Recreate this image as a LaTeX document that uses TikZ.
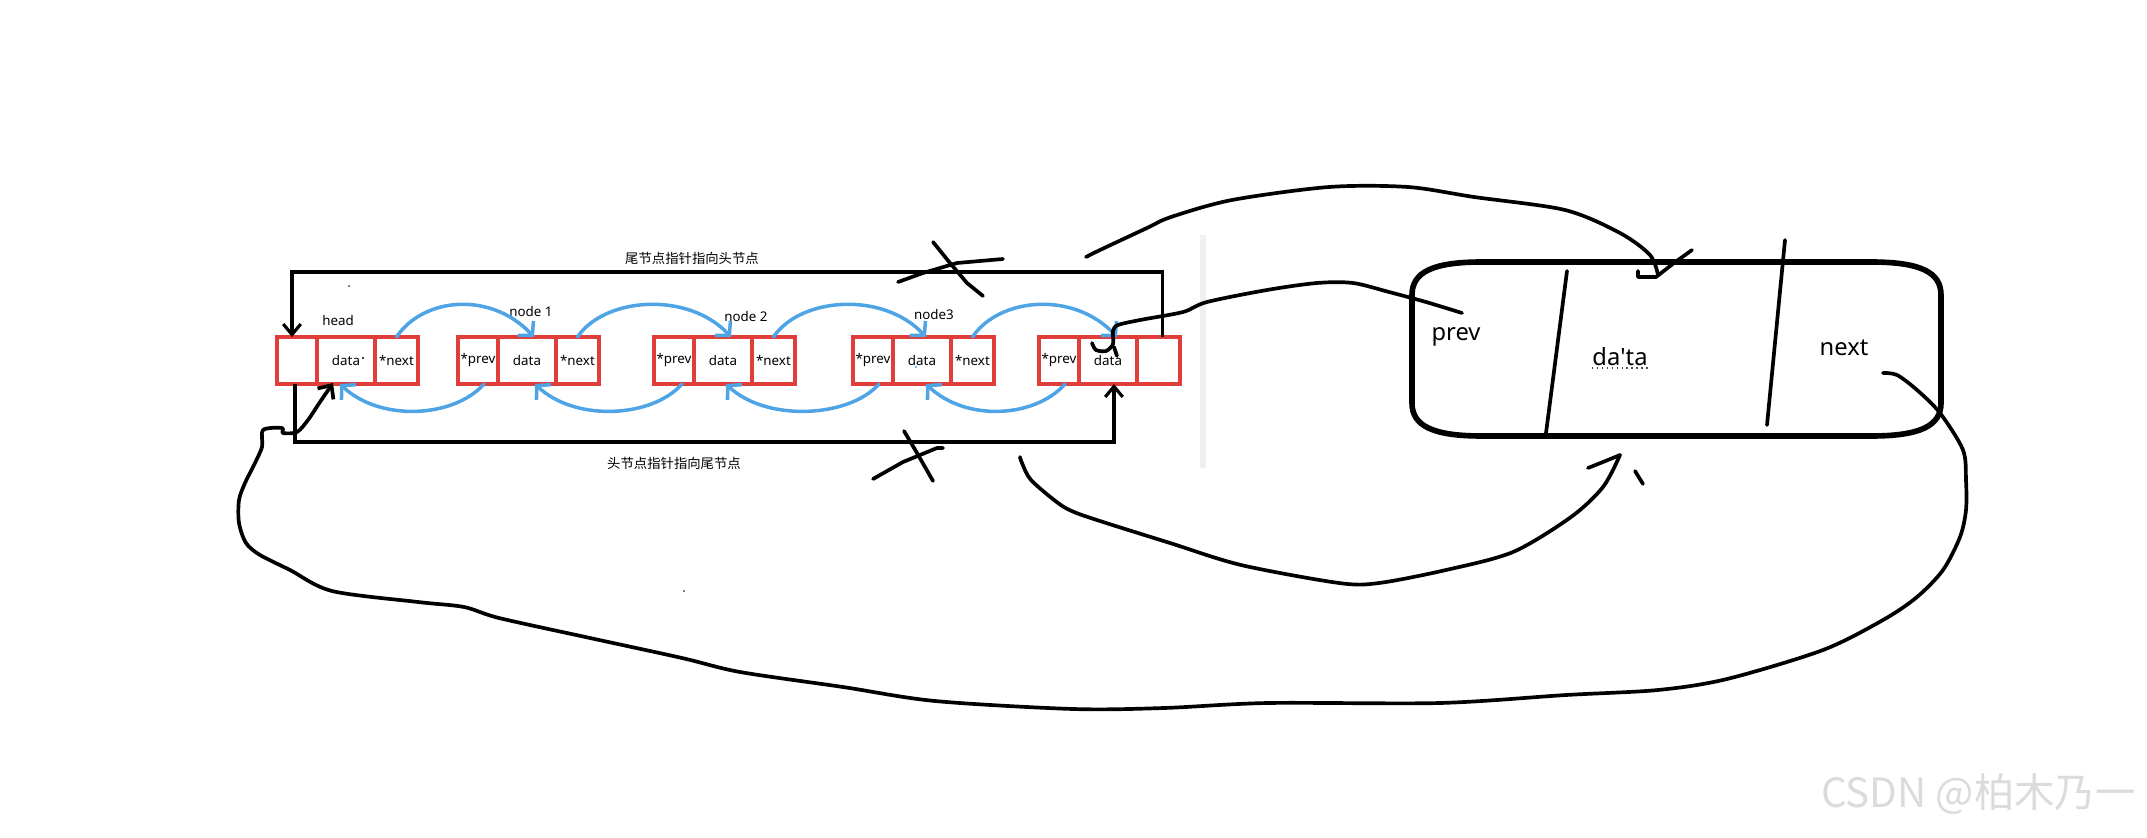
\documentclass[tikz,border=0pt]{standalone}
\usepackage{fontspec}
\setmainfont{Noto Sans}
\newfontfamily\cjk{Noto Sans CJK SC}
\usetikzlibrary{arrows.meta,positioning,calc}
\definecolor{listred}{RGB}{224,62,58}
\definecolor{linkblue}{RGB}{78,164,228}
\tikzset{
  cell/.style={draw=listred, line width=2pt, minimum height=0.94cm, inner sep=0pt, outer sep=0pt, font=\fontsize{7.6}{9}\selectfont},
  ecell/.style={cell, minimum width=0.8cm},
  dcell/.style={cell, minimum width=1.16cm},
  ncell/.style={cell, minimum width=0.86cm},
  lbl/.style={font=\fontsize{7.6}{9}\selectfont, inner sep=1pt},
  clbl/.style={font=\cjk\fontsize{7.6}{9}\selectfont, inner sep=1pt},
  blbl/.style={font=\fontsize{13.5}{16}\selectfont, inner sep=1pt},
  link/.style={linkblue, line width=2pt, line cap=round, -{Straight Barb[length=5.5pt,width=12pt]}},
  frameline/.style={line width=1.8pt, -{Straight Barb[length=6pt,width=10pt]}},
  ink/.style={line width=2.1pt, line cap=round, line join=round},
}

\begin{document}
\begin{tikzpicture}[x=0.02cm, y=-0.02cm]
    \useasboundingbox (0,0) rectangle (2147,838);
    % head
    \node[ecell, anchor=west] (h-e) at (277,360.5) {};
    \node[dcell, right=0pt of h-e] (h-d) {data};
    \node[ncell, right=0pt of h-d] (h-n) {*next};
    \node[lbl] (l-h) at (338,320) {head};
    % node 1
    \node[ecell, anchor=west] (n1-p) at (458,360.5) {*prev};
    \node[dcell, right=0pt of n1-p] (n1-d) {data};
    \node[ncell, right=0pt of n1-d] (n1-n) {*next};
    \node[lbl] (l-1) at (531,311) {node 1};
    % node 2
    \node[ecell, anchor=west] (n2-p) at (654,360.5) {*prev};
    \node[dcell, right=0pt of n2-p] (n2-d) {data};
    \node[ncell, right=0pt of n2-d] (n2-n) {*next};
    \node[lbl] (l-2) at (746,316) {node 2};
    % node 3
    \node[ecell, anchor=west] (n3-p) at (853,360.5) {*prev};
    \node[dcell, right=0pt of n3-p] (n3-d) {data};
    \node[ncell, right=0pt of n3-d] (n3-n) {*next};
    \node[lbl] (l-3) at (934,314) {node3};
    % tail
    \node[ecell, anchor=west] (t-p) at (1039,360.5) {*prev};
    \node[dcell, right=0pt of t-p] (t-d) {data};
    \node[ncell, right=0pt of t-d] (t-e) {};

    % next links
    \draw[link] (h-n.north) .. controls +(27,-40) and +(-43,-46) .. ([xshift=0.14cm]n1-d.north);
    \draw[link] (n1-n.north) .. controls +(27,-40) and +(-43,-46) .. ([xshift=0.16cm]n2-d.north);
    \draw[link] (n2-n.north) .. controls +(27,-40) and +(-43,-46) .. ([xshift=0.08cm]n3-d.north);
    \draw[link] (n3-n.north) .. controls +(27,-40) and +(-43,-46) .. ([xshift=0.18cm]t-d.north);
    % prev links
    \draw[link] ([xshift=0.12cm]n1-p.south) .. controls +(-30,34) and +(40,38) .. ([xshift=-0.12cm]h-d.south);
    \draw[link] ([xshift=0.16cm]n2-p.south) .. controls +(-30,34) and +(40,38) .. ([xshift=0.16cm]n1-d.south);
    \draw[link] ([xshift=0.12cm]n3-p.south) .. controls +(-30,34) and +(40,38) .. ([xshift=0.06cm]n2-d.south);
    \draw[link] ([xshift=0.12cm]t-p.south) .. controls +(-30,34) and +(40,38) .. ([xshift=0.08cm]n3-d.south);

    % tail -> head, head -> tail
    \draw[frameline] ([xshift=0.08cm]t-e.north) -- ++(0,-65) -| ([xshift=-0.1cm]h-e.north);
    \draw[frameline] ([xshift=-0.04cm]h-e.south) -- ++(0,58) -| ([xshift=0.12cm]t-d.south);
    \node[clbl] (l-top) at (692,258) {尾节点指针指向头节点};
    \node[clbl] (l-bot) at (674,463) {头节点指针指向尾节点};

    % separator
    \draw[gray!12, line width=3.4pt] (1203,235) -- (1203,468);

    % new node
    \draw[line width=3.2pt] (1482,262) -- (1871,262) .. controls (1920,262) and (1941,272) .. (1941,295) -- (1941,403) .. controls (1941,426) and (1920,436) .. (1871,436) -- (1482,436) .. controls (1433,436) and (1412,426) .. (1412,403) -- (1412,295) .. controls (1412,272) and (1433,262) .. (1482,262) -- cycle;
    \draw[ink] (1567,271) -- (1546,433);
    \draw[ink] (1785,240) -- (1767,425);
    \node[blbl] (b-p) at (1456,337) {prev};
    \node[blbl] (b-d) at (1620,357) {da\textquotesingle ta};
    \node[blbl] (b-n) at (1844,348) {next};
    \draw[dotted, line width=0.8pt, gray!60!black] (1592,368) -- (1650,368);

    % hand strokes
    \draw[ink] plot[smooth, tension=0.5] coordinates {(1092,343) (1096,350) (1106,351) (1113,344) (1113,331) (1118,325) (1140,320) (1183,312) (1207,302) (1267,290) (1317,283) (1353,283) (1389,292) (1426,302) (1462,313)};
    \draw[ink] (1114,347) -- (1117,356);
    \draw[ink] plot[smooth, tension=0.5] coordinates {(1086,257) (1100,250) (1147,228) (1171,217) (1232,200) (1329,187) (1408,187) (1474,197) (1565,210) (1620,233) (1650,255) (1658,275)};
    \draw[ink] (1638,271) -- (1638,277) -- (1656,277) -- (1674,263) -- (1692,250);
    \draw[ink] plot[smooth, tension=0.5] coordinates {(1020,457) (1022,463) (1031,480) (1058,503) (1074,512) (1103,522) (1170,543) (1241,565) (1339,583) (1379,583) (1446,570) (1513,552) (1571,517) (1603,487) (1620,455)};
    \draw[ink] (1588,468) -- (1603,462) -- (1620,455);
    \draw[ink] (1635,471) -- (1643,484);
    \draw[ink, -{Straight Barb[length=6pt,width=11pt]}] plot[smooth, tension=0.5] coordinates {(1883,373) (1897,375) (1917,390) (1940,413) (1963,450) (1966,480) (1966,510) (1960,537) (1943,570) (1917,597) (1883,620) (1823,650) (1727,679) (1658,690) (1566,695) (1440,703) (1268,703) (1164,708) (1073,709) (935,701) (843,687) (740,672) (682,658) (590,638) (499,618) (464,607) (418,602) (332,591) (290,570) (260,555) (246,543) (239,523) (239,500) (245,483) (253,467) (262,447) (263,430) (282,428) (283,433) (297,432) (308,420) (320,402) (333,383)};
    % crosses
    \draw[ink] (898,282) -- (923,273) -- (957,263) -- (1003,259);
    \draw[ink] (933,242) -- (950,263) -- (967,283) -- (983,296);
    \draw[ink] (873,479) -- (903,462) -- (937,448) -- (943,448);
    \draw[ink] (904,431) -- (917,453) -- (933,481);
    % specks
    \fill (363,358) circle[radius=0.7pt];
    \fill (349,286) circle[radius=0.5pt];
    \fill (684,591) circle[radius=0.5pt];
    \fill[linkblue] (916,367) circle[radius=0.7pt];

    \node[font=\cjk\fontsize{23}{26}\selectfont, text=gray!28, anchor=east] (wm) at (2142,794) {CSDN @柏木乃一};
\end{tikzpicture}
\end{document}
